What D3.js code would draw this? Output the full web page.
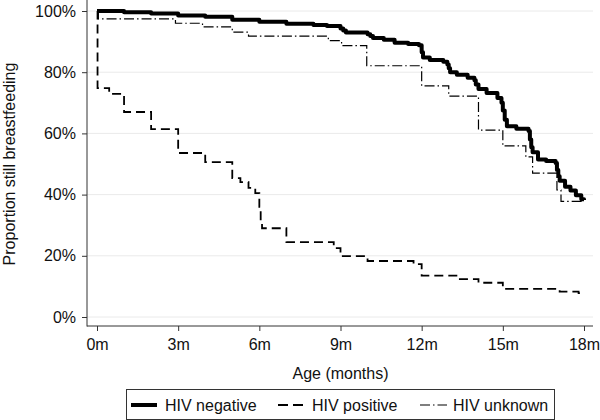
<!DOCTYPE html>
<html>
<head>
<meta charset="utf-8">
<script src="https://cdn.jsdelivr.net/npm/d3@7"></script>
<style>
  html, body { margin: 0; padding: 0; background: #fff; }
  svg { display: block; font-family: "Liberation Sans", Arial, sans-serif; }
</style>
</head>
<body>
<svg id="chart" width="600" height="420"></svg>
<script>
// ---- data (months, % still breastfeeding) ----
const negTime = [0, 1.0, 2.0, 3.0, 4.0, 5.0, 6.0, 7.0, 8.0, 8.5, 9.0, 9.1, 9.2, 10.0, 10.1, 10.2, 10.6, 11.0, 11.5, 11.9, 12.0, 12.05, 12.3, 12.8, 12.95, 13.0, 13.05, 13.3, 13.7, 13.95, 14.0, 14.1, 14.4, 14.8, 14.95, 15.0, 15.07, 15.15, 15.5, 15.95, 16.0, 16.05, 16.1, 16.3, 16.6, 16.95, 17.0, 17.05, 17.1, 17.3, 17.5, 17.7, 17.9, 18.0];
const negSurv = [100, 99.6, 99.2, 98.5, 98.1, 97.1, 96.5, 95.8, 95.4, 95.1, 94.3, 93.6, 93.0, 92.4, 91.8, 91.2, 90.6, 89.6, 89.2, 88.8, 86.5, 84.8, 84.0, 83.4, 82.5, 81.3, 80.0, 79.2, 78.2, 77.4, 76.0, 74.5, 73.2, 71.6, 70.0, 67.5, 64.5, 62.3, 61.5, 60.8, 58.0, 55.5, 53.8, 51.5, 51.0, 50.3, 48.0, 46.0, 44.5, 42.6, 41.3, 39.8, 38.5, 38.2];

const posTime = [0, 0.02, 0.45, 1.0, 2.0, 3.0, 4.0, 5.0, 5.3, 5.6, 5.85, 6.0, 6.05, 6.1, 7.0, 8.75, 9.0, 10.0, 11.7, 12.0, 13.35, 14.1, 15.0, 17.1, 17.8, 18.0];
const posSurv = [100, 74.8, 72.9, 67.0, 61.4, 53.6, 50.6, 45.4, 44.1, 42.2, 40.5, 36.0, 31.0, 29.0, 24.5, 22.5, 19.9, 18.3, 17.3, 13.5, 12.4, 11.2, 9.2, 8.3, 7.8, 7.8];

const unkTime = [0, 0.05, 2.9, 3.9, 5.0, 5.6, 8.55, 9.04, 9.97, 12.0, 13.0, 14.1, 15.0, 15.85, 16.1, 17.0, 17.15, 18.0];
const unkSurv = [100, 97.4, 96.0, 94.8, 93.1, 91.8, 90.3, 88.7, 82.1, 75.5, 72.2, 61.1, 55.9, 52.3, 47.0, 41.5, 37.8, 37.8];

const xTicks = [0, 3, 6, 9, 12, 15, 18];
const yTicks = [0, 20, 40, 60, 80, 100];
const seriesNames = ["HIV negative", "HIV positive", "HIV unknown"];

// ---- layout ----
const svg = d3.select("#chart");
const x = d3.scaleLinear().domain([0, 18]).range([97, 584]);
const y = d3.scaleLinear().domain([0, 100]).range([317, 11]);
const plotLeft = 87, plotRight = 593, plotTop = 0, plotBottom = 326;

// gridlines
svg.append("g").selectAll("line").data(yTicks).join("line")
  .attr("x1", plotLeft).attr("x2", plotRight)
  .attr("y1", d => y(d)).attr("y2", d => y(d))
  .attr("stroke", "#eaeaea").attr("stroke-width", 1);

// axes
const yAxis = svg.append("g").attr("transform", `translate(${plotLeft},0)`)
  .call(d3.axisLeft(y).tickValues(yTicks).tickFormat(d => d + "%").tickSize(5).tickPadding(6).tickSizeOuter(0));
yAxis.select(".domain").remove();
const xAxis = svg.append("g").attr("transform", `translate(0,${plotBottom})`)
  .call(d3.axisBottom(x).tickValues(xTicks).tickFormat(d => d + "m").tickSize(5).tickPadding(8).tickSizeOuter(0));
xAxis.select(".domain").remove();
[yAxis, xAxis].forEach(g => {
  g.selectAll("text").attr("font-size", 16).attr("fill", "#111").attr("font-family", "Liberation Sans, Arial, sans-serif");
  g.selectAll(".tick line").attr("stroke", "#333");
});
svg.append("line").attr("x1", plotLeft).attr("x2", plotLeft).attr("y1", plotTop).attr("y2", plotBottom + 0.5)
  .attr("stroke", "#333").attr("stroke-width", 1);
svg.append("line").attr("x1", plotLeft).attr("x2", plotRight).attr("y1", plotBottom).attr("y2", plotBottom)
  .attr("stroke", "#333").attr("stroke-width", 1);

// titles
svg.append("text").attr("x", 340.5).attr("y", 379).attr("text-anchor", "middle")
  .attr("font-size", 16).attr("fill", "#111").text("Age (months)");
svg.append("text").attr("transform", "translate(15,164) rotate(-90)").attr("text-anchor", "middle")
  .attr("font-size", 16).attr("fill", "#111").text("Proportion still breastfeeding");

// lines
const stepLine = d3.line().x(d => x(d[0])).y(d => y(d[1])).curve(d3.curveStepAfter);
const styles = [
  { w: 4, dash: null },
  { w: 1.8, dash: "9,5" },
  { w: 1.2, dash: "10,3,1.5,3" }
];
const series = [
  d3.zip(negTime, negSurv),
  d3.zip(posTime, posSurv),
  d3.zip(unkTime, unkSurv)
];
const order = [2, 1, 0];
order.forEach(i => {
  svg.append("path").datum(series[i]).attr("d", stepLine)
    .attr("fill", "none").attr("stroke", "#000")
    .attr("stroke-width", styles[i].w)
    .attr("stroke-dasharray", styles[i].dash)
    .attr("stroke-linejoin", i === 0 ? "round" : "miter");
});

// legend
svg.append("rect").attr("x", 126.5).attr("y", 389.5).attr("width", 428).attr("height", 30)
  .attr("fill", "#fff").attr("stroke", "#333").attr("stroke-width", 1);
const legX = [[131, 157, 165], [278, 303, 312], [420, 447, 453]];
seriesNames.forEach((name, i) => {
  svg.append("line").attr("x1", legX[i][0]).attr("x2", legX[i][1]).attr("y1", 405).attr("y2", 405)
    .attr("stroke", "#000").attr("stroke-width", styles[i].w)
    .attr("stroke-dasharray", i === 1 ? "10,5" : (i === 2 ? "10,3,1.5,3" : null));
  svg.append("text").attr("x", legX[i][2]).attr("y", 410.5).attr("font-size", 16).attr("fill", "#111").text(name);
});
</script>
</body>
</html>
